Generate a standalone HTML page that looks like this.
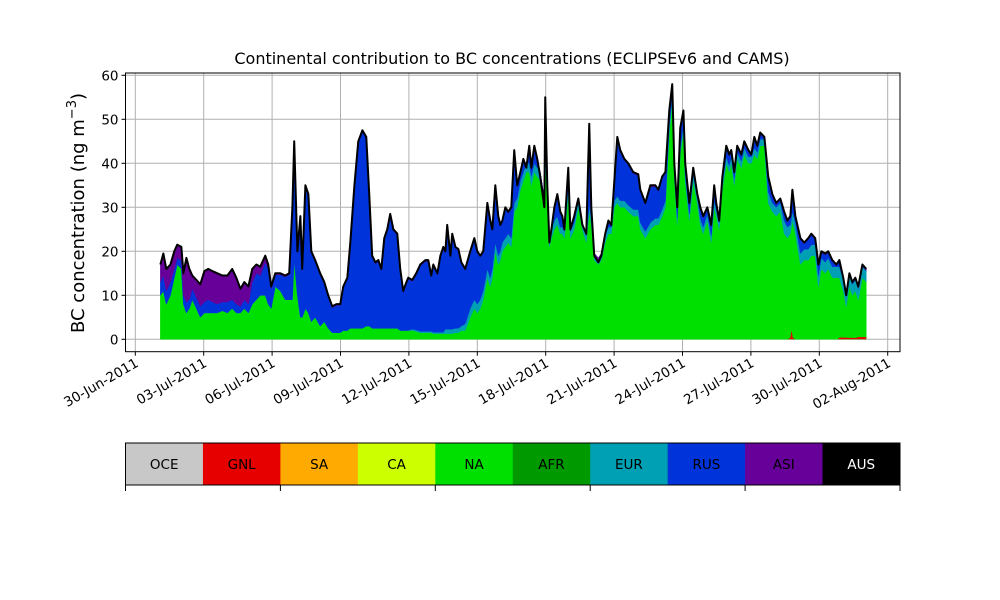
<!DOCTYPE html>
<html><head><meta charset="utf-8">
<style>
body{margin:0;background:#fff;}
svg{display:block;font-family:"DejaVu Sans","Liberation Sans",sans-serif;}
</style></head>
<body>
<svg id="chart" width="1000" height="600" viewBox="0 0 1000 600"></svg>
<script>
const days = [1.10,1.23,1.36,1.54,1.71,1.84,2.02,2.11,2.24,2.37,
2.50,2.68,2.85,3.03,3.20,3.38,3.60,3.82,4.04,4.25,
4.43,4.61,4.78,4.96,5.13,5.31,5.48,5.70,5.83,5.96,
6.14,6.36,6.58,6.75,6.89,6.97,7.11,7.24,7.32,7.46,
7.59,7.72,7.89,8.11,8.29,8.46,8.64,8.82,8.99,9.12,
9.30,9.43,9.61,9.78,9.96,10.13,10.26,10.39,10.53,10.66,
10.79,10.92,11.05,11.18,11.32,11.49,11.62,11.75,11.89,11.97,
12.15,12.32,12.50,12.72,12.85,12.98,13.07,13.25,13.38,13.51,
13.60,13.68,13.82,13.90,14.04,14.17,14.30,14.47,14.69,14.87,
15.00,15.13,15.26,15.44,15.57,15.66,15.79,15.92,16.01,16.10,
16.23,16.36,16.49,16.62,16.75,16.89,17.02,17.15,17.28,17.37,
17.50,17.63,17.76,17.94,17.98,18.07,18.16,18.25,18.38,18.51,
18.64,18.73,18.82,18.99,19.08,19.25,19.43,19.61,19.78,19.91,
20.00,20.13,20.31,20.44,20.61,20.75,20.88,21.01,21.14,21.27,
21.45,21.62,21.84,22.06,22.15,22.37,22.59,22.81,22.94,23.11,
23.25,23.42,23.55,23.64,23.77,23.90,24.04,24.12,24.30,24.47,
24.65,24.78,24.91,25.09,25.26,25.39,25.48,25.61,25.75,25.92,
26.05,26.14,26.27,26.40,26.58,26.71,26.89,27.02,27.15,27.28,
27.41,27.59,27.76,27.94,28.11,28.29,28.46,28.60,28.73,28.82,
28.95,29.17,29.34,29.52,29.65,29.82,29.96,30.09,30.26,30.39,
30.57,30.75,30.88,31.05,31.18,31.32,31.45,31.58,31.71,31.89,
32.06];
const total = [17,19.5,16,17,20,21.5,21,15,18.5,16,
14.5,13.5,12.5,15.5,16,15.5,15,14.5,14.5,16,
14,11.5,13,12,16,17,16.5,19,17,12,
15,15,14.5,15,30,45,20,28,16,35,
33,20,18,15,13,10,7.5,8,8,12,
14,22,35,45,47.5,46,33,19,17.5,18,
16,23,25,28.5,25,24,16,11,13,14,
13.5,15,17,18,18,14.5,17,15,19,21,
20,26,19,24,21,20.5,17.5,16,20,23,
20,19,20,31,27,25,35,28,26,27,
30,29,30,43,35,38,41,39,44,39,
44,41,37,30,55,35,22,25,30,33,
29,28,25,39,25,28,32,26,24,49,
30,19,17.5,19,24,27,26,36,46,43,
41,40,38,37.5,34,31,35,35,34,37,
38,52,58,40,30,48,52,40,31,39,
33,30,28,30,26,35,31,27,37,44,
42,43,38,44,42,45,43,42,46,44,
47,46,37,33,31,32,29,27,28,34,
28,23,22,23,24,23,17,20,19.5,20,
18,17,18,14,10,15,13,14,12,17,
16];
const na = [10,11,8,10,14,17,16,8,6,7,
9,7,5,6,6,6,6,6.5,6,7,
6,6,7,6,8,9,10,10,8,7,
12,11,9,9,9,18,10,5,5,7,
6,4,5,3,4,2.5,1.5,1.5,1.5,2,
2,2.5,2.5,2.5,2.5,3,3,2.5,2.5,2.5,
2.5,2.5,2.5,2.5,2.5,2.5,2,2,2,2,
2,1.8,1.5,1.5,1.5,1.5,1.3,1.3,1.3,1.3,
1.3,1.3,1.3,1.3,1.5,1.5,2,2,5,7,
6,7,9,14,12,14,20,17,18,20,
21,22,21,29,30,34,36,38,38,35,
38,37,36,30,40,33,21,23,25,26,
24,24,23,33,23,25,30,25,22,29,
26,18,17,18,22,24,24,30,31,30,
30,29,28,28,25,23,25,26,26,28,
30,47,54,37,26,42,47,36,27,36,
31,26,24,27,22,30,28,25,34,40,
38,40,35,41,39,42,40,40,42,41,
44,44,31,29,28,29,24,23,24,27,
24,17,18,18,19,19,12,16,15,16,
14,14,14,11,7.5,12,10,11,9,14,
13];
const eur = [0,0,0,0,0,0,0,0,0,0,
0,0,0,0,0,0,0,0,0,0,
0,0,0,0,0,0,0,0,0,0,
0,0,0,0,0,0,0,0,0,0,
0,0,0,0,0,0,0,0,0,0,
0,0,0,0,0,0,0,0,0,0,
0,0,0,0,0,0,0,0,0,0,
0.3,0.3,0.3,0.3,0.3,0.3,0.3,0.3,0.3,0.3,
1,1,1,1,1,1,1,1.5,2,2,
2,2,2,2,2,2,2,2,2,2,
2,2,2,2,2,2,2,2,2,2,
2,2,2,2,2,2,2,2,2,2,
1.5,1.5,1.5,1.5,1.5,1.5,1.5,1.5,1.5,1.5,
1.5,1.5,1.5,1.5,1.5,1.5,1.5,1.5,1.5,1.5,
1.5,1.5,1.5,1.5,1.5,1.5,1.5,1.5,1.5,1.5,
1.5,1.5,1.5,1.5,1.5,1.5,1.5,1.5,1.5,1.5,
1.5,1.5,1.5,1.5,1.5,1.5,1.5,1.5,1.5,1.5,
1.5,1.5,1.5,1.5,1.5,1.5,1.5,1.5,1.5,1.5,
1.5,1.5,2.5,2,2,2,3,2.5,2,2,
2.5,2.5,2.5,2.5,2.5,2.5,2.5,2.5,2.5,2.5,
2.5,2.5,2.5,2.5,2.5,2.5,2.5,2.5,2.5,2.5,
2.5];
const asi = [4,5,5,4,4,3,3,5,10,7,
3,4,5,7,7,7,7,6,6,7,
6,4,4,4,3,2,2,1.5,1,0.5,
0.3,0.3,0.3,0.3,0.3,0.3,0.3,0.3,0.3,0.3,
0.3,0.3,0.3,0.3,0.3,0.3,0.3,0.3,0.3,0.3,
0.3,0.3,0.3,0.3,0.3,0.3,0.3,0.3,0.3,0.3,
0.3,0.3,0.3,0.3,0.3,0.3,0.3,0.3,0.3,0.3,
0.3,0.3,0.3,0.3,0.3,0.3,0.3,0.3,0.3,0.3,
0.3,0.3,0.3,0.3,0.3,0.3,0.3,0.3,0.3,0.3,
0.3,0.3,0.3,0.3,0.3,0.3,0.3,0.3,0.3,0.3,
0.3,0.3,0.3,0.3,0.3,0.3,0.3,0.3,0.3,0.3,
0.3,0.3,0.3,0.3,0.3,0.3,0.3,0.3,0.3,0.3,
0.3,0.3,0.3,0.3,0.3,0.3,0.3,0.3,0.3,0.3,
0.3,0.3,0.3,0.3,0.3,0.3,0.3,0.3,0.3,0.3,
0.3,0.3,0.3,0.3,0.3,0.3,0.3,0.3,0.3,0.3,
0.3,0.3,0.3,0.3,0.3,0.3,0.3,0.3,0.3,0.3,
0.3,0.3,0.3,0.3,0.3,0.3,0.3,0.3,0.3,0.3,
0.3,0.3,0.3,0.3,0.3,0.3,0.3,0.3,0.3,0.3,
0.3,0.3,0.3,0.3,0.3,0.3,0.3,0.3,0.3,0.3,
0.3,0.3,0.3,0.3,0.3,0.3,0.3,0.3,0.3,0.3,
0.3,0.3,0.3,0.3,0.3,0.3,0.3,0.3,0.3,0.3,
0.3];
const gnlDays = [28.60,28.73,28.78,28.84,28.95,30.80,30.90,31.60,31.70,32.06];
const gnlVals = [0,0.3,2,0.3,0,0,0.4,0.3,0.5,0.5];
const yTicks = [0,10,20,30,40,50,60];
const xTickDays = [0,3,6,9,12,15,18,21,24,27,30,33];
const xTickLabels = ["30-Jun-2011","03-Jul-2011","06-Jul-2011","09-Jul-2011","12-Jul-2011","15-Jul-2011","18-Jul-2011","21-Jul-2011","24-Jul-2011","27-Jul-2011","30-Jul-2011","02-Aug-2011"];
const regions = ["OCE","GNL","SA","CA","NA","AFR","EUR","RUS","ASI","AUS"];
const regionColors = ["#c8c8c8","#e60000","#ffaa00","#ccff00","#00e000","#009a00","#00a0b4","#0033d9","#660099","#000000"];

const NS="http://www.w3.org/2000/svg";
const svg=document.getElementById('chart');
const L=125.5,R=900,T=73,B=351.7;
const X=d=>135.3+(d)*22.8;
const Y=v=>339.3-v*4.4;
function mk(tag,attrs,parent){const e=document.createElementNS(NS,tag);for(const k in attrs)e.setAttribute(k,attrs[k]);(parent||svg).appendChild(e);return e;}

const grid=mk('g',{});


yTicks.forEach(v=>{mk('line',{x1:L,x2:R,y1:Y(v),y2:Y(v),stroke:'#b0b0b0','stroke-width':1},grid);});
xTickDays.forEach(d=>{mk('line',{x1:X(d),x2:X(d),y1:T,y2:B,stroke:'#b0b0b0','stroke-width':1},grid);});

function area(lo,hi,color,name){
  let p='M'+X(days[0])+','+Y(hi[0]);
  for(let i=1;i<days.length;i++)p+=' L'+X(days[i])+','+Y(hi[i]);
  for(let i=days.length-1;i>=0;i--)p+=' L'+X(days[i])+','+Y(lo[i]);
  const e=mk('path',{d:p+'Z',fill:color,stroke:color,'stroke-width':0.5});
  
  
}
const zero=days.map(()=>0);
const naTop=na.slice();
const eurTop=na.map((v,i)=>v+eur[i]);
const rusTop=total.map((v,i)=>Math.max(eurTop[i],v-asi[i]));
area(zero,naTop,regionColors[4],'area-na');
area(naTop,eurTop,regionColors[6],'area-eur');
area(eurTop,rusTop,regionColors[7],'area-rus');
area(rusTop,total,regionColors[8],'area-asi');
{let p='M'+X(gnlDays[0])+','+Y(0);
 gnlDays.forEach((d,i)=>{p+=' L'+X(d)+','+Y(gnlVals[i]);});
 p+=' L'+X(gnlDays[gnlDays.length-1])+','+Y(0)+'Z';
 const g=mk('path',{d:p,fill:regionColors[1]});
 
 }
{let p='';days.forEach((d,i)=>{p+=(i?' L':'M')+X(d)+','+Y(total[i]);});
 const ln=mk('path',{d:p,fill:'none',stroke:'#000','stroke-width':2,'stroke-linejoin':'round'});
 
 }

const fr=mk('rect',{x:L,y:T,width:R-L,height:B-T,fill:'none',stroke:'#000','stroke-width':1});



yTicks.forEach(v=>{
  mk('line',{x1:L-4,x2:L,y1:Y(v),y2:Y(v),stroke:'#000'});
  const t=mk('text',{x:L-7,y:Y(v)+5,'text-anchor':'end','font-size':13.5});
  t.textContent=v;
  
  
});
xTickDays.forEach((d,i)=>{
  mk('line',{x1:X(d),x2:X(d),y1:B,y2:B+4,stroke:'#000'});
  const t=mk('text',{x:0,y:0,'text-anchor':'end','font-size':13.5,transform:`translate(${X(d)+4},${B+14}) rotate(-30)`});
  t.textContent=xTickLabels[i];
  
  
});
</script>
<svg style="position:absolute;left:0;top:0" width="1000" height="600">
<text x="512" y="64" text-anchor="middle" font-size="16">Continental contribution to BC concentrations (ECLIPSEv6 and CAMS)</text>
<text transform="translate(84,213) rotate(-90)" text-anchor="middle" font-size="18">BC concentration (ng m<tspan dy="-8" font-size="13">−3</tspan><tspan dy="8">)</tspan></text>
<g id="cbar"></g>
</svg>
<script>
(function(){
const g=document.getElementById('cbar');
const x0=125.5,w=(900-125.5)/regions.length,y0=443,h=42;
regions.forEach((r,i)=>{
  const rc=document.createElementNS(NS,'rect');
  rc.setAttribute('x',x0+i*w);rc.setAttribute('y',y0);rc.setAttribute('width',w+0.5);rc.setAttribute('height',h);rc.setAttribute('fill',regionColors[i]);
  
  
  g.appendChild(rc);
  const t=document.createElementNS(NS,'text');
  t.setAttribute('x',x0+i*w+w/2);t.setAttribute('y',y0+h/2+5);t.setAttribute('text-anchor','middle');t.setAttribute('font-size','13.5');
  t.setAttribute('fill',r==='AUS'?'#fff':'#000');
  t.textContent=r;
  
  
  g.appendChild(t);
});
const fr=document.createElementNS(NS,'rect');
fr.setAttribute('x',x0);fr.setAttribute('y',y0);fr.setAttribute('width',900-x0);fr.setAttribute('height',h);fr.setAttribute('fill','none');fr.setAttribute('stroke','#000');
g.appendChild(fr);
for(let k=0;k<=5;k++){
  const l=document.createElementNS(NS,'line');
  const xx=x0+k*2*w;
  l.setAttribute('x1',xx);l.setAttribute('x2',xx);l.setAttribute('y1',y0+h);l.setAttribute('y2',y0+h+6);l.setAttribute('stroke','#000');
  g.appendChild(l);
}
})();
</script>
</body></html>
